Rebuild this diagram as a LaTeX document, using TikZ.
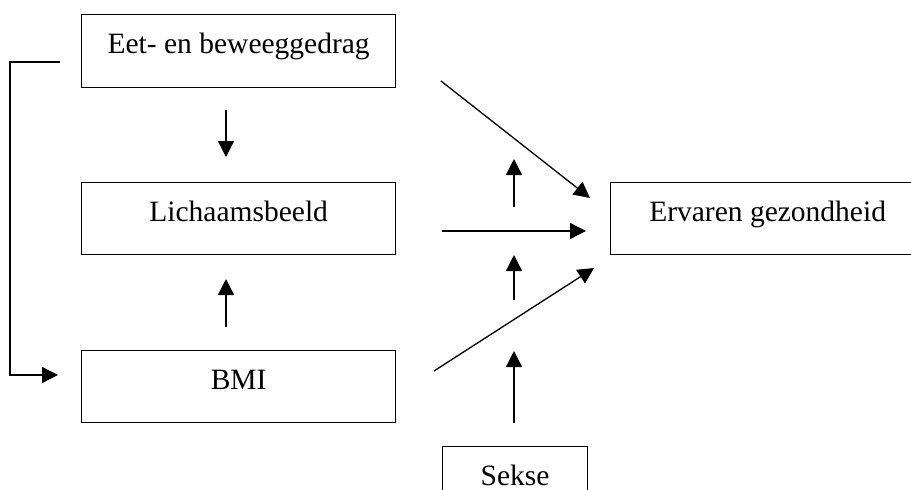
\documentclass[tikz,border=0pt]{standalone}
\usepackage{fontspec}
\setmainfont{Liberation Serif}
\usetikzlibrary{arrows.meta}
\begin{document}
\begin{tikzpicture}[x=1pt,y=-1pt,
  box/.style={draw, line width=1.3pt, inner sep=0pt, anchor=north west,
    font=\fontsize{29.5}{35}\selectfont, text height=20pt, text depth=15pt},
  conn/.style={line width=1.3pt, -{Triangle[length=16pt,width=16pt]}}]
\useasboundingbox (0,0) rectangle (911,490);
\clip (0,0) rectangle (911,490);
\fill[white] (0,0) rectangle (911,490);
\node[box, minimum width=314pt, minimum height=73pt] (eet) at (81,14) {Eet- en beweeggedrag};
\node[box, minimum width=314pt, minimum height=72pt] (lich) at (81,182) {Lichaamsbeeld};
\node[box, minimum width=314pt, minimum height=72pt] (bmi) at (81,350) {BMI};
\node[box, minimum width=314pt, minimum height=72pt] (erv) at (610,182) {Ervaren gezondheid};
\node[box, minimum width=145pt, minimum height=72pt] (sekse) at (442,446) {Sekse};
% named end points of the free-standing connectors
\coordinate (fbA) at (60,62);
\coordinate (fbB) at (58,375);
\coordinate (d1a) at (226,110); \coordinate (d1b) at (226,157);
\coordinate (u1a) at (226,327); \coordinate (u1b) at (226,279);
\coordinate (g1a) at (441,81);  \coordinate (g1b) at (590,198);
\coordinate (h1a) at (442,231); \coordinate (h1b) at (586,231);
\coordinate (g2a) at (434,371); \coordinate (g2b) at (594,268);
\coordinate (s1a) at (514,423); \coordinate (s1b) at (514,351);
\coordinate (s2a) at (514,300); \coordinate (s2b) at (514,255);
\coordinate (s3a) at (514,207); \coordinate (s3b) at (514,159);
\draw[conn] (fbA) -- (10,62) -- (10,375) -- (fbB);
\draw[conn] (d1a) -- (d1b);
\draw[conn] (u1a) -- (u1b);
\draw[conn] (g1a) -- (g1b);
\draw[conn] (h1a) -- (h1b);
\draw[conn] (g2a) -- (g2b);
\draw[conn] (s1a) -- (s1b);
\draw[conn] (s2a) -- (s2b);
\draw[conn] (s3a) -- (s3b);
\end{tikzpicture}
\end{document}
